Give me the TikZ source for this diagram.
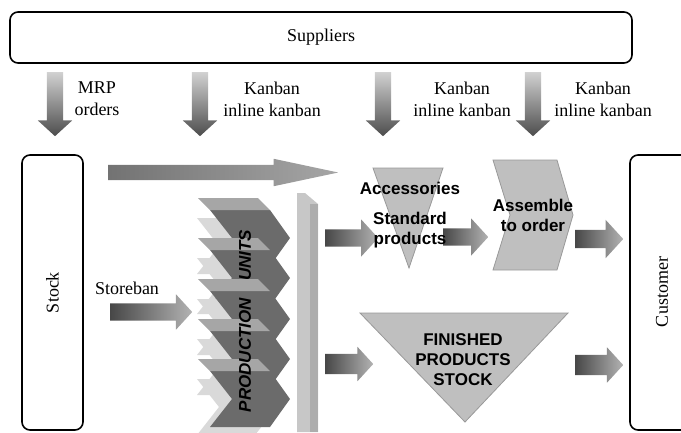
\documentclass[tikz,border=0pt]{standalone}
\usepackage{fontspec}
\setmainfont{Liberation Serif}
\setsansfont{Liberation Sans}
\usetikzlibrary{shapes.arrows,positioning}

\tikzset{
  box/.style={draw, line width=1.6pt, rounded corners=8pt, inner sep=0pt},
  lab/.style={font=\fontsize{18}{22}\selectfont, align=center},
  tag/.style={font=\sffamily\bfseries\fontsize{17}{20}\selectfont, align=center},
  flow/.style n args={3}{single arrow, draw=none, inner sep=#2/2, anchor=tail,
    minimum height=#1, minimum width=#3, single arrow head extend=#3/2-#2/2,
    single arrow head indent=0pt, single arrow tip angle=95},
  harrow/.style n args={3}{flow={#1}{#2}{#3}, left color=black!72, right color=black!30},
  varrow/.style n args={3}{flow={#1}{#2}{#3}, shape border rotate=270,
    top color=black!18, bottom color=black!70},
  shadowface/.style={fill=black!15},
  bodyface/.style={fill=black!58},
  topface/.style={fill=black!35},
  stockface/.style={fill=black!25, draw=black!40, line width=0.8pt}
}

\begin{document}
\begin{tikzpicture}[x=1pt,y=-1pt]
\useasboundingbox (0,0) rectangle (681,432);

% outer partners
\node[box, minimum width=622pt, minimum height=51pt] (suppliers) at (321,37.5) {};
\node[lab] (supplierslbl) at (suppliers.center) {Suppliers};
\node[box, minimum width=61pt, minimum height=275pt] (stock) at (52.5,292.5) {};
\node[lab, rotate=90] (stocklbl) at (stock.center) {Stock};
\node[box, minimum width=62pt, minimum height=275pt] (customer) at (661,292.5) {};
\node[lab, rotate=90] (customerlbl) at (662,292) {Customer};

% orders coming from the suppliers
% flow = {length}{shaft}{head width}
\foreach \x/\n in {55/mrp,200/kb1,383/kb2,533/kb3}
  \node[varrow={64pt}{16pt}{34pt}] (\n) at (\x,72) {};
\node[lab] (mrplbl) at (97,99) {MRP\\orders};
\node[lab] (kb1lbl) at (272,99) {Kanban\\inline kanban};
\node[lab] (kb2lbl) at (462,99) {Kanban\\inline kanban};
\node[lab] (kb3lbl) at (603,99) {Kanban\\inline kanban};

% production units
\foreach \t in {198,238,279,319,359} {
  \fill[shadowface] (197,\t+20) -- (255,\t+20) -- (277,\t+48) -- (255,\t+76)
    -- (197,\t+76) -- (219,\t+48) -- cycle;
  \fill[bodyface] (210,\t+12) -- (270,\t+12) -- (290,\t+40) -- (270,\t+68)
    -- (210,\t+68) -- (232,\t+40) -- cycle;
  \fill[topface] (198,\t) -- (258,\t) -- (270,\t+12) -- (210,\t+12) -- cycle;
}
\node[font=\sffamily\bfseries\itshape\fontsize{17}{20}\selectfont, rotate=90]
  (units) at (245,321) {PRODUCTION\quad UNITS};

% collecting bar
\fill[black!22] (297,193) -- (305,193) -- (318,204) -- (318,432) -- (297,432) -- cycle;
\fill[black!32] (310,204) -- (318,204) -- (318,432) -- (310,432) -- cycle;

% stocks and assembly
\fill[stockface] (373,168) -- (443,168) -- (409,268) -- cycle;
\fill[stockface] (493,160) -- (557,160) -- (573,215) -- (557,270) -- (493,270)
  -- (510,215) -- cycle;
\fill[stockface] (360,313) -- (568,313) -- (465,422) -- cycle;

% material flows
\node[harrow={230pt}{15pt}{27pt}, single arrow tip angle=24,
  left color=black!55, right color=black!35] (bypass) at (108,172.5) {};
\node[harrow={82pt}{17pt}{35pt}] (storeban) at (110,312) {};
\node[harrow={53pt}{17pt}{37pt}] (tostd) at (325,238) {};
\node[harrow={45pt}{17pt}{37pt}] (toasm) at (443,237) {};
\node[harrow={48pt}{20pt}{34pt}] (tofps) at (325,364) {};
\node[harrow={48pt}{18pt}{38pt}] (asmout) at (575,239) {};
\node[harrow={48pt}{20pt}{35pt}] (fpsout) at (575,365) {};

\node[lab] (storebanlbl) at (127,288) {Storeban};
\node[tag] (acc) at (410,188) {Accessories};
\node[tag] (std) at (410,230) {Standard\\products};
\node[tag] (asm) at (533,215) {Assemble\\to order};
\node[tag] (fps) at (463,360) {FINISHED\\PRODUCTS\\STOCK};
\end{tikzpicture}
\end{document}
